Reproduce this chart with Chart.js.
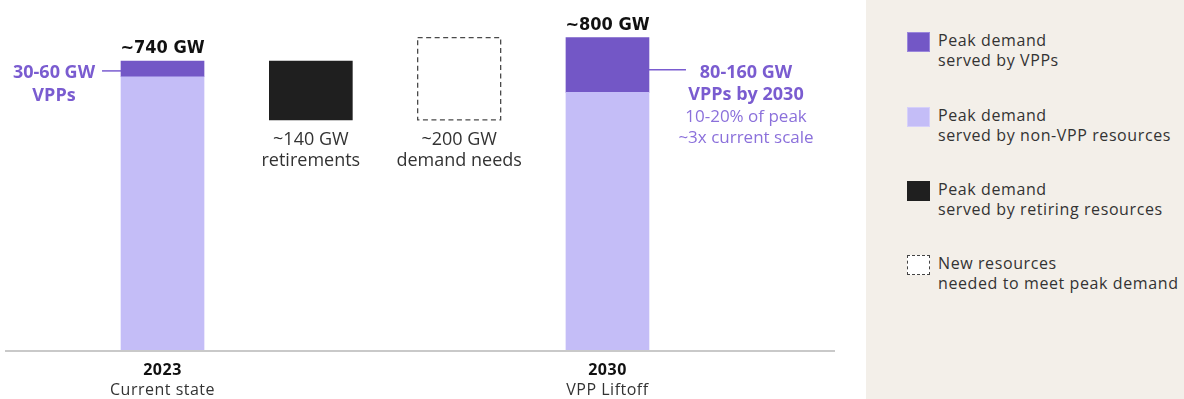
<!DOCTYPE html>
<html><head><meta charset="utf-8">
<script src="https://cdn.jsdelivr.net/npm/chart.js@4"></script>
<style>
html,body{margin:0;padding:0;background:#fff;width:1184px;height:399px;overflow:hidden}
#wrap{position:relative;width:1184px;height:399px}
#c{position:absolute;left:0;top:0}
#legend{position:absolute;left:866px;top:0;width:318px;height:399px;background:#f3efe9;font-family:"Open Sans",sans-serif;font-size:16px;color:#333}
.item{position:absolute;left:41px}
.sw{position:absolute;left:0;top:0;width:23px;height:20px;box-sizing:border-box}
.txt{position:absolute;left:31px;top:-1px;line-height:19.5px;white-space:nowrap;letter-spacing:0.6px}
</style></head>
<body><div id="wrap"><canvas id="c" width="866" height="399"></canvas><div id="legend"></div></div>
<script>
// ---- data ----
const categories = ['2023', 'Retirements', 'Demand needs', '2030'];
const categorySub = ['Current state', '', '', 'VPP Liftoff'];
const xPos = [0, 1, 2, 3];
const nonVppRange = [[0, 700], null, null, [0, 660]];
const vppRange = [[700, 740], null, null, [660, 800]];
const retiringRange = [null, [590, 740], null, null];
const newNeedsRange = [null, null, [590, 800], null];
const totalLabels = ['~740 GW', null, null, '~800 GW'];
const stepLabels = [null, ['~140 GW', 'retirements'], ['~200 GW', 'demand needs'], null];
const calloutLeft = ['30-60 GW', 'VPPs'];
const calloutRight = ['80-160 GW', 'VPPs by 2030'];
const calloutRightSub = ['10-20% of peak', '~3x current scale'];
const axisLabelIdx = [0, 3];
const seriesNames = [
  ['Peak demand', 'served by VPPs'],
  ['Peak demand', 'served by non-VPP resources'],
  ['Peak demand', 'served by retiring resources'],
  ['New resources', 'needed to meet peak demand']
];

const C_VPP = '#7357c6', C_NON = '#c4bdf7', C_RET = '#1f1f1f', C_TXT = '#7a5cd0', C_TXT2 = '#8b70db';

function toPts(arr) {
  const out = [];
  arr.forEach((r, i) => { if (r) out.push({ x: xPos[i], y: r }); });
  return out;
}

const datasets = [
  { label: seriesNames[1].join(' '), data: toPts(nonVppRange), backgroundColor: C_NON },
  { label: seriesNames[0].join(' '), data: toPts(vppRange), backgroundColor: C_VPP },
  { label: seriesNames[2].join(' '), data: toPts(retiringRange), backgroundColor: C_RET },
  { label: seriesNames[3].join(' '), data: toPts(newNeedsRange), backgroundColor: 'rgba(255,255,255,0)' }
];
datasets.forEach(d => { d.grouped = false; d.barThickness = 83; d.borderWidth = 0; });

const SANS = '"Open Sans", sans-serif';
const COND = '"DejaVu Sans Condensed", "Liberation Sans Narrow", sans-serif';

const annot = {
  id: 'annot',
  afterDatasetsDraw(chart) {
    const ctx = chart.ctx, xs = chart.scales.x, ys = chart.scales.y, ca = chart.chartArea;
    ctx.save();
    // dashed box for new resources
    const metaNew = chart.getDatasetMeta(3);
    metaNew.data.forEach(el => {
      const p = el.getProps(['x', 'y', 'base', 'width'], true);
      ctx.setLineDash([5, 3.5]);
      ctx.strokeStyle = '#4a4a4a';
      ctx.lineWidth = 1.3;
      ctx.strokeRect(p.x - p.width / 2, p.y, p.width, p.base - p.y);
    });
    ctx.setLineDash([]);
    // baseline
    const y0 = ys.getPixelForValue(0);
    ctx.strokeStyle = '#c9c9c9';
    ctx.lineWidth = 2;
    ctx.beginPath(); ctx.moveTo(ca.left, y0); ctx.lineTo(ca.right, y0); ctx.stroke();

    ctx.textAlign = 'center';
    // totals
    ctx.fillStyle = '#111';
    ctx.font = 'bold 18px ' + COND;
    ctx.textBaseline = 'alphabetic';
    totalLabels.forEach((t, i) => {
      if (!t) return;
      const top = vppRange[i][1];
      ctx.fillText(t, xs.getPixelForValue(xPos[i]), ys.getPixelForValue(top) - 8);
    });
    // step labels
    ctx.textBaseline = 'middle';
    ctx.fillStyle = '#333';
    ctx.font = '18px ' + SANS;
    stepLabels.forEach((lines, i) => {
      if (!lines) return;
      const r = retiringRange[i] || newNeedsRange[i];
      const yb = ys.getPixelForValue(r[0]);
      lines.forEach((l, k) => ctx.fillText(l, xs.getPixelForValue(xPos[i]), yb + 20 + k * 21));
    });
    // axis labels
    ctx.letterSpacing = '0.5px';
    axisLabelIdx.forEach(i => {
      const x = xs.getPixelForValue(xPos[i]);
      ctx.fillStyle = '#111';
      ctx.font = 'bold 16px ' + SANS;
      ctx.fillText(categories[i], x, y0 + 19);
      ctx.fillStyle = '#333';
      ctx.font = '16px ' + SANS;
      ctx.fillText(categorySub[i], x, y0 + 39);
    });
    ctx.letterSpacing = '0px';
    // left callout
    const half = 83 / 2;
    const xL = xs.getPixelForValue(xPos[0]) - half;
    const yL = ys.getPixelForValue(715);
    ctx.strokeStyle = C_TXT; ctx.lineWidth = 1.5;
    ctx.beginPath(); ctx.moveTo(xL - 19, yL); ctx.lineTo(xL, yL); ctx.stroke();
    ctx.fillStyle = C_TXT;
    ctx.font = 'bold 18px ' + SANS;
    ctx.fillText(calloutLeft[0], 54, yL + 2);
    ctx.fillText(calloutLeft[1], 54, yL + 25);
    // right callout
    const xR = xs.getPixelForValue(xPos[3]) + half;
    const yR = ys.getPixelForValue(718);
    ctx.beginPath(); ctx.moveTo(xR, yR); ctx.lineTo(xR + 37, yR); ctx.stroke();
    const cx = 746;
    ctx.font = 'bold 18px ' + SANS;
    ctx.fillText(calloutRight[0], cx, yR + 3);
    ctx.fillText(calloutRight[1], cx, yR + 25);
    ctx.fillStyle = C_TXT2;
    ctx.font = '17px ' + SANS;
    ctx.fillText(calloutRightSub[0], cx, yR + 47);
    ctx.fillText(calloutRightSub[1], cx, yR + 68);
    ctx.restore();
  }
};

new Chart(document.getElementById('c'), {
  type: 'bar',
  data: { datasets },
  options: {
    responsive: false,
    animation: false,
    devicePixelRatio: 1,
    layout: { padding: { left: 5, right: 31, top: 0, bottom: 48 } },
    plugins: { legend: { display: false }, tooltip: { enabled: false } },
    scales: {
      x: { type: 'linear', min: -1.062, max: 4.534, offset: false, display: false },
      y: { type: 'linear', min: 0, max: 896, display: false }
    }
  },
  plugins: [annot]
});

// HTML legend
const legendColors = [
  { bg: C_VPP, border: '1px solid #9a86dc' },
  { bg: C_NON, border: '1px solid #d6d0fa' },
  { bg: C_RET, border: 'none' },
  { bg: '#fff', border: '1.5px dashed #444' }
];
const legendTops = [32, 107, 181, 255];
const leg = document.getElementById('legend');
seriesNames.forEach((lines, i) => {
  const it = document.createElement('div');
  it.className = 'item';
  it.style.top = legendTops[i] + 'px';
  const sw = document.createElement('div');
  sw.className = 'sw';
  sw.style.background = legendColors[i].bg;
  sw.style.border = legendColors[i].border;
  const tx = document.createElement('div');
  tx.className = 'txt';
  tx.innerHTML = lines.join('<br>');
  it.appendChild(sw); it.appendChild(tx);
  leg.appendChild(it);
});
</script></body></html>
